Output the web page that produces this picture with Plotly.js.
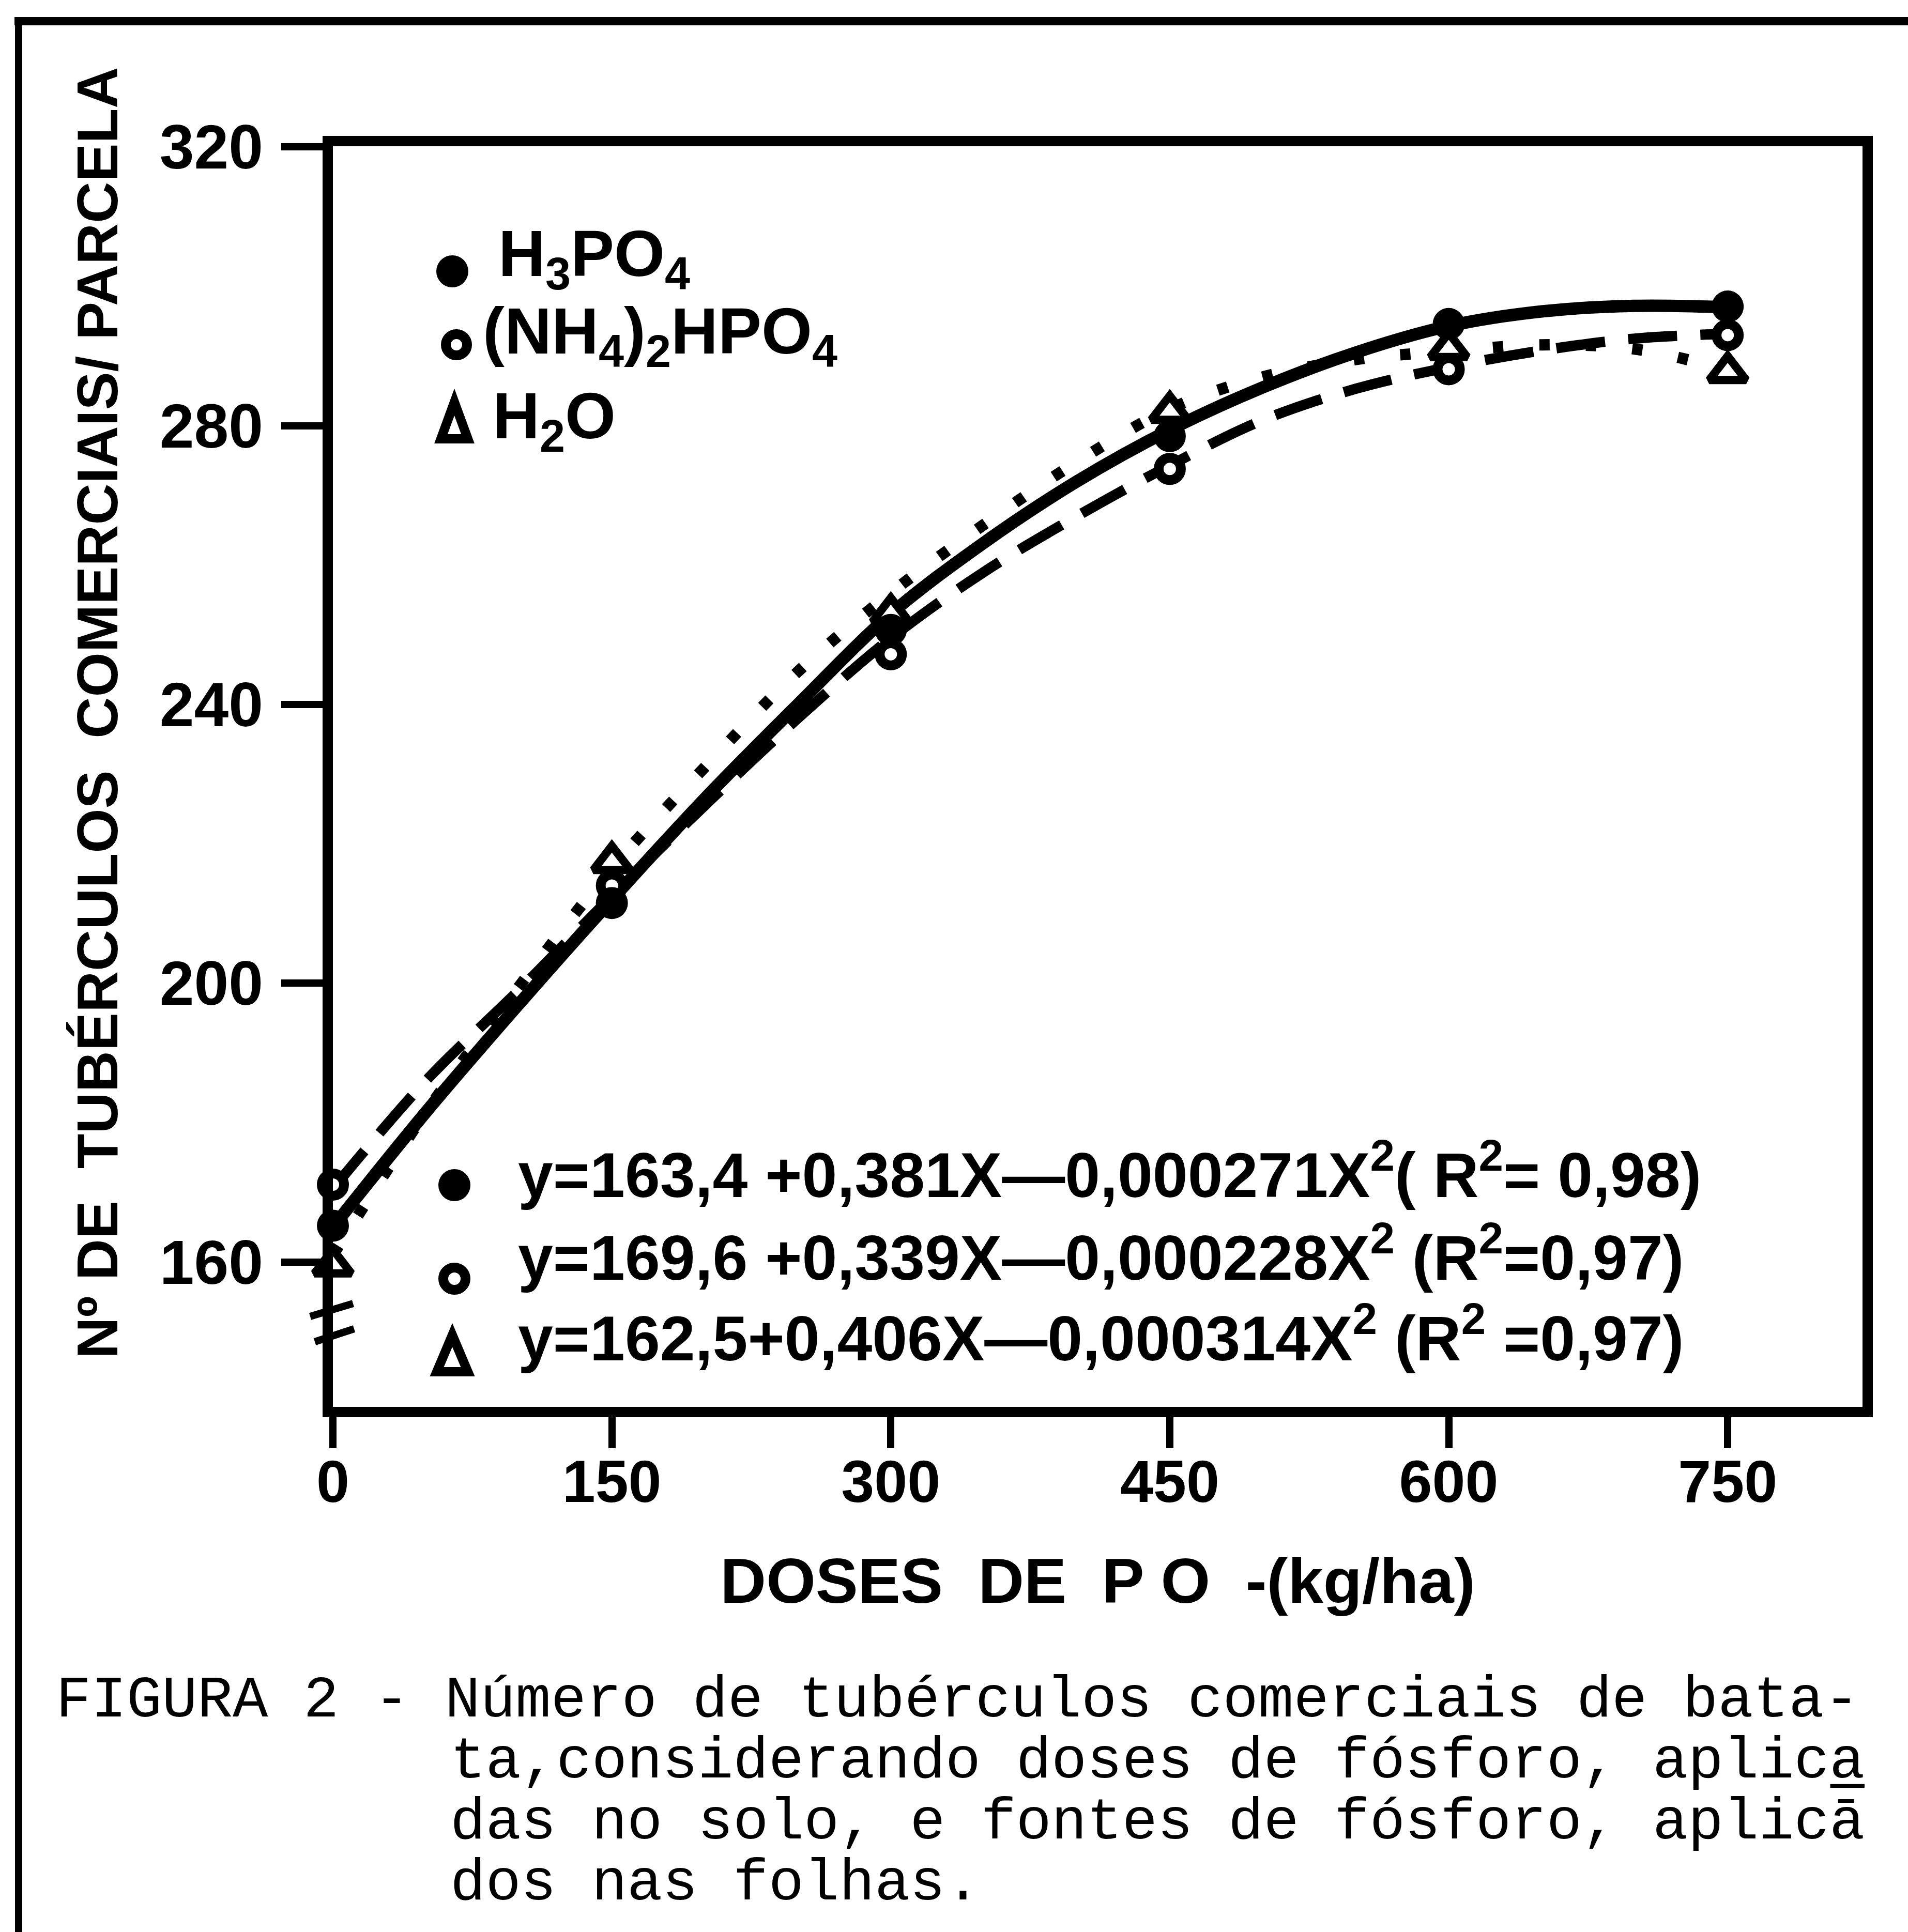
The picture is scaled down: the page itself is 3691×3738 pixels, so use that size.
<!DOCTYPE html>
<html><head><meta charset="utf-8">
<script src="https://cdn.plot.ly/plotly-3.0.1.min.js"></script>
<style>html,body{margin:0;padding:0;background:#fff;} #chart{width:3691px;height:3738px;}</style>
</head><body><div id="chart"></div>
<script>
// ---------- data ----------
const doses = [0, 150, 300, 450, 600, 750];
const h3po4Points = [165.2, 211.5, 250.7, 278.5, 294.6, 297.1];
const nh4Points   = [171.1, 214.0, 247.2, 273.8, 288.1, 293.0];
const h2oPoints   = [159.5, 217.4, 253.0, 282.0, 291.0, 287.7];

const curveX     = [0, 50, 100, 150, 200, 250, 300, 350, 400, 450, 500, 550, 600, 650, 700, 750];
const h3po4Curve = [165.0, 181.5, 197.0, 212.0, 226.5, 240.0, 253.0, 263.2, 272.0, 279.4, 285.5, 290.5, 294.3, 296.4, 297.2, 297.0];
const nh4Curve   = [170.5, 186.0, 199.0, 212.5, 225.5, 238.0, 249.5, 259.0, 267.0, 274.3, 280.8, 285.3, 288.4, 290.8, 292.5, 293.2];
const h2oCurve   = [161.0, 181.5, 199.5, 216.5, 231.0, 244.7, 256.0, 265.8, 274.8, 282.4, 287.0, 289.5, 290.7, 291.6, 291.0, 288.0];

const xTicks = [0, 150, 300, 450, 600, 750];
const yTicks = [160, 200, 240, 280, 320];

const seriesNames = ['H<sub>3</sub>PO<sub>4</sub>', '(NH<sub>4</sub>)<sub>2</sub>HPO<sub>4</sub>', 'H<sub>2</sub>O'];
const equations = [
  'y=163,4 +0,381X\u20140,000271X<sup>2</sup>( R<sup>2</sup>= 0,98)',
  'y=169,6 +0,339X\u20140,000228X<sup>2</sup> (R<sup>2</sup>=0,97)',
  'y=162,5+0,406X\u20140,000314X<sup>2</sup> (R<sup>2</sup> =0,97)'
];
const captionLines = [
  'FIGURA 2 - N\u00famero de tub\u00e9rculos comerciais de bata-',
  'ta,considerando doses de f\u00f3sforo, aplica\u0332',
  'das no solo, e fontes de f\u00f3sforo, aplic\u0101',
  'dos nas folhas.'
];
const xTitle = 'DOSES\u00a0 DE\u00a0 P O\u00a0 -(kg/ha)';
const yTitle = '\u200b\u00a0\u00a0\u00a0\u00a0\u00a0\u00a0\u00a0\u00a0N\u00ba DE\u00a0 TUB\u00c9RCULOS\u00a0 COMERCIAIS/ PARCELA';

// ---------- layout geometry (pixels of the page) ----------
const W = 3691, H = 3738, L = 644, R = 3603, T = 283, B = 2722;
const px = x => (x - L) / (R - L);
const py = y => (B - y) / (B - T);
const K = 'black';
const sans = 'Liberation Sans, Arial, sans-serif';

const traces = [
  {x: curveX, y: nh4Curve, mode: 'lines', line: {color: K, width: 20, dash: '95px,45px', shape: 'spline'}, hoverinfo: 'skip'},
  {x: curveX, y: h2oCurve, mode: 'lines', line: {color: K, width: 22, dash: '20px,70px', shape: 'spline'}, hoverinfo: 'skip'},
  {x: curveX, y: h3po4Curve, mode: 'lines', line: {color: K, width: 24, shape: 'spline'}, hoverinfo: 'skip'},
  {x: doses, y: h2oPoints, mode: 'markers', name: seriesNames[2], cliponaxis: false,
   marker: {symbol: 'triangle-up', size: 62, color: 'white', line: {color: K, width: 16}}},
  {x: doses, y: nh4Points, mode: 'markers', name: seriesNames[1], cliponaxis: false,
   marker: {symbol: 'circle', size: 43, color: 'white', line: {color: K, width: 19}}},
  {x: doses, y: h3po4Points, mode: 'markers', name: seriesNames[0], cliponaxis: false,
   marker: {symbol: 'circle', size: 62, color: K, line: {width: 0}}}
];

// key symbols (legend + equations) as shapes
function dot(cx, cy, d) {
  return {type: 'circle', xref: 'paper', yref: 'paper', x0: px(cx - d/2), x1: px(cx + d/2), y0: py(cy + d/2), y1: py(cy - d/2), fillcolor: K, line: {width: 0}};
}
function ring(cx, cy, d, w) {
  const r = (d - w) / 2;
  return {type: 'circle', xref: 'paper', yref: 'paper', x0: px(cx - r), x1: px(cx + r), y0: py(cy + r), y1: py(cy - r), fillcolor: 'white', line: {color: K, width: w}};
}
function tri(cx, top, bottom, halfW, w) {
  const p = `M ${px(cx)} ${py(top)} L ${px(cx + halfW)} ${py(bottom)} L ${px(cx - halfW)} ${py(bottom)} Z`;
  return {type: 'path', xref: 'paper', yref: 'paper', path: p, fillcolor: 'white', line: {color: K, width: w}};
}
function seg(x0, y0, x1, y1, w) {
  return {type: 'line', xref: 'paper', yref: 'paper', x0: px(x0), y0: py(y0), x1: px(x1), y1: py(y1), line: {color: K, width: w}};
}

const shapes = [
  // outer frame of the page
  seg(28, 41, W + 10, 41, 16),
  seg(36, 33, 36, H + 10, 14),
  // axis break marks
  seg(600, 2547, 683, 2522, 14),
  seg(609, 2596, 685, 2571, 14),
  // legend keys
  dot(875, 525, 62),
  ring(883, 667, 60, 19),
  tri(879, 778, 849, 26, 18),
  // equation keys
  dot(879, 2293, 62),
  ring(879, 2474, 62, 19),
  tri(875, 2583, 2654, 30, 18)
];

function txt(text, x, y, font, xa, ya) {
  return {text: text, xref: 'paper', yref: 'paper', x: px(x), y: py(y), xanchor: xa || 'left', yanchor: ya || 'top', showarrow: false, font: font, borderpad: 0};
}
const LS = 126;
const legFont = {family: sans, size: LS, color: K, weight: 'bold'};
const eqFont = {family: sans, size: 122, color: K, weight: 'bold'};
const capFont = {family: 'Liberation Mono, Courier New, monospace', size: 114, color: K};

const annotations = [
  txt(seriesNames[0], 963, 533 - 0.905 * LS, legFont),
  txt(seriesNames[1], 933, 683 - 0.905 * LS, legFont),
  txt(seriesNames[2], 952, 847 - 0.905 * LS, legFont),
  txt(equations[0], 1001, 2317 + 0.212 * 122, eqFont, 'left', 'bottom'),
  txt(equations[1], 1001, 2477 + 0.212 * 122, eqFont, 'left', 'bottom'),
  txt(equations[2], 1001, 2633 + 0.212 * 122, eqFont, 'left', 'bottom'),
  txt(captionLines[0], 107, 3320 - 0.833 * 114, capFont),
  txt(captionLines[1], 870, 3438 - 0.833 * 114, capFont),
  txt(captionLines[2], 870, 3556 - 0.833 * 114, capFont),
  txt(captionLines[3], 870, 3674 - 0.833 * 114, capFont)
];

const layout = {
  width: W, height: H,
  margin: {l: L, r: W - R, t: T, b: H - B, pad: 0},
  paper_bgcolor: 'white', plot_bgcolor: 'white',
  showlegend: false,
  xaxis: {
    range: [0, 822.5], tickvals: xTicks, ticktext: xTicks.map(String),
    ticks: 'outside', ticklen: 60, tickwidth: 14, tickcolor: K,
    showline: true, linewidth: 20, linecolor: K, mirror: true,
    showgrid: false, zeroline: false, ticklabelstandoff: -34,
    tickfont: {family: sans, size: 115, color: K, weight: 'bold'},
    title: {text: xTitle, standoff: 95, font: {family: sans, size: 123, color: K, weight: 'bold'}}
  },
  yaxis: {
    range: [139.2, 320.1], tickvals: yTicks, ticktext: yTicks.map(String),
    ticks: 'outside', ticklen: 80, tickwidth: 14, tickcolor: K,
    showline: true, linewidth: 20, linecolor: K, mirror: true,
    showgrid: false, zeroline: false, ticklabelstandoff: 11,
    tickfont: {family: sans, size: 120, color: K, weight: 'bold'},
    title: {text: yTitle, standoff: 53, font: {family: sans, size: 111, color: K, weight: 'bold'}}
  },
  shapes: shapes,
  annotations: annotations
};

Plotly.newPlot('chart', traces, layout, {staticPlot: true, displayModeBar: false});
</script>
</body></html>
